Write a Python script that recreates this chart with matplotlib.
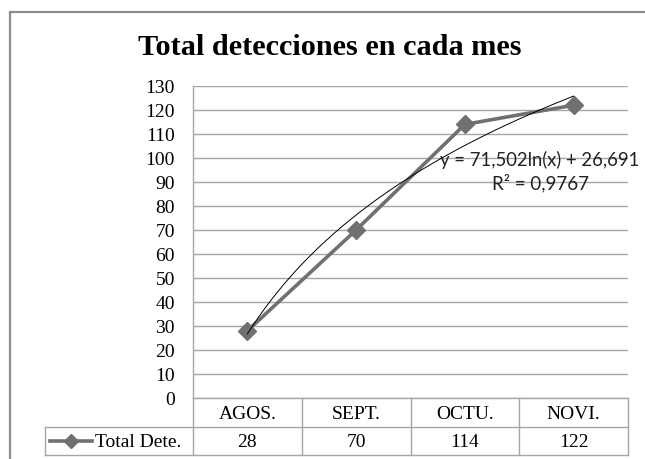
import numpy as np
import matplotlib
matplotlib.use("Agg")
import matplotlib.pyplot as plt
from matplotlib.lines import Line2D
from matplotlib.transforms import blended_transform_factory

# ---- data ----
categories = ["AGOS.", "SEPT.", "OCTU.", "NOVI."]
values = [28, 70, 114, 122]
series_name = "Total Dete."
title = "Total detecciones en cada mes"
yticks = list(range(0, 131, 10))
trend_eq = "y = 71,502ln(x) + 26,691"
trend_r2 = "R² = 0,9767"

SERIF = ["Liberation Serif", "DejaVu Serif"]
SANS = ["Lato", "DejaVu Sans"]
plt.rcParams["font.family"] = SERIF

W, H, DPI = 645, 460, 100
fig = plt.figure(figsize=(W / DPI, H / DPI), dpi=DPI)
fig.patch.set_facecolor("white")

def fx(px):
    return px / W

def fy(py):
    return 1 - py / H

GRID = "#a6a6a6"
LINE = "#707070"

# outer chart border (only top/left visible in the reference)
fig.add_artist(Line2D([fx(9.5), fx(9.5), fx(660)], [fy(470), fy(12.7), fy(12.7)],
                      transform=fig.transFigure, color="#8c8c8c", lw=1.6,
                      solid_joinstyle="miter"))

L, R, T, B = 193, 628, 87, 399
ax = fig.add_axes([fx(L), fy(B), fx(R) - fx(L), fy(T) - fy(B)])
n = len(values)
x = np.arange(1, n + 1)
ax.set_xlim(0.5, n + 0.5)
ax.set_ylim(0, 130)
ax.set_yticks(yticks)
ax.set_xticks([])
ax.yaxis.grid(True, color=GRID, lw=1.0)
ax.set_axisbelow(True)
for s in ["top", "right", "bottom"]:
    ax.spines[s].set_visible(False)
ax.spines["left"].set_color(GRID)
ax.spines["left"].set_linewidth(1.0)
ax.tick_params(axis="y", length=0, pad=13, labelsize=14)

ax.plot(x, values, color=LINE, lw=2.6, marker="D", ms=9.5, zorder=3,
        clip_on=False)

# logarithmic trendline fitted to the data
a, b = np.polyfit(np.log(x), values, 1)
xx = np.linspace(1, n, 200)
ax.plot(xx, a * np.log(xx) + b, color="black", lw=0.7, zorder=4)

t1 = fig.text(fx(540), fy(160), trend_eq, ha="center", va="center",
              fontsize=14, family=SANS, color="#222222", zorder=5)
t2 = fig.text(fx(540), fy(183), trend_r2, ha="center", va="center",
              fontsize=14, family=SANS, color="#222222", zorder=5)

# title
tt = fig.text(fx(330), fy(55), title, ha="center", va="baseline",
              fontsize=21.5, weight="bold", family=SERIF)

# ---- data table ----
def hline(x0, x1, y):
    fig.add_artist(Line2D([fx(x0), fx(x1)], [fy(y), fy(y)],
                          transform=fig.transFigure, color=GRID, lw=1.0))

def vline(xp, y0, y1):
    fig.add_artist(Line2D([fx(xp), fx(xp)], [fy(y0), fy(y1)],
                          transform=fig.transFigure, color=GRID, lw=1.0))

ROW0, ROW1, ROW2 = 399, 427.5, 455.5
LEG_L = 45
hline(L, R, ROW0)
hline(LEG_L, R, ROW1)
hline(LEG_L, R, ROW2)
for i in range(n + 1):
    xp = L + i * (R - L) / n
    vline(xp, ROW0, ROW2)
vline(LEG_L, ROW1, ROW2)

bt = blended_transform_factory(ax.transData, fig.transFigure)
for xi, c, v in zip(x, categories, values):
    ax.text(xi, fy((ROW0 + ROW1) / 2 + 1), c, transform=bt, ha="center",
            va="center", fontsize=14, clip_on=False)
    ax.text(xi, fy((ROW1 + ROW2) / 2 + 1), str(v), transform=bt,
            ha="center", va="center", fontsize=14, clip_on=False)

ly = (ROW1 + ROW2) / 2
fig.add_artist(Line2D([fx(50), fx(92)], [fy(ly), fy(ly)],
                      transform=fig.transFigure, color=LINE, lw=2.6))
fig.add_artist(Line2D([fx(71)], [fy(ly)], transform=fig.transFigure,
                      color=LINE, marker="D", ms=7.5, lw=0))
fig.text(fx(95), fy(ly + 1), series_name, ha="left", va="center",
         fontsize=14)

# fit widths of title and trend label to reference
fig.canvas.draw()
r = fig.canvas.get_renderer()
def fit(t, target):
    w = t.get_window_extent(r).width
    t.set_fontsize(t.get_fontsize() * target / w)
fit(tt, 385)
fit(t1, 200)
fit(t2, 97)

fig.savefig("out.png", dpi=DPI, facecolor="white")
